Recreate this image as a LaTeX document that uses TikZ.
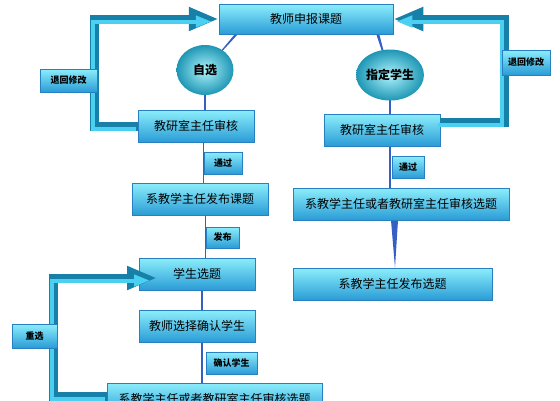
\documentclass[tikz,border=0pt]{standalone}
\usepackage{fontspec}
\setmainfont{Noto Sans CJK SC}
\usetikzlibrary{arrows.meta,calc,backgrounds,shapes.geometric}
\pgfdeclarelayer{top}
\pgfsetlayers{background,main,top}
\definecolor{boxtop}{RGB}{140,238,252}
\definecolor{boxbot}{RGB}{42,156,214}
\definecolor{boxedge}{RGB}{40,128,195}
\definecolor{conncol}{RGB}{55,95,195}
\definecolor{pipedark}{RGB}{22,128,168}
\definecolor{pipelight}{RGB}{75,208,242}
\definecolor{ballin}{RGB}{175,244,252}
\definecolor{ballout}{RGB}{30,150,180}
\begin{document}
\begin{tikzpicture}[x=1pt,y=-1pt,
  box/.style={rectangle,draw=boxedge,line width=0.5pt,top color=boxtop,bottom color=boxbot,inner sep=0pt,font=\fontsize{12}{12}\selectfont},
  tag/.style={box,font=\fontsize{9}{9}\selectfont\bfseries},
  ball/.style={ellipse,inner sep=0pt,inner color=ballin,outer color=ballout,font=\fontsize{12}{12}\selectfont\bfseries},
  conn/.style={draw=conncol,line width=1.4pt},
  wedge/.style={fill=conncol},
  pipe/.style={draw=pipedark,line width=9pt,-{Triangle[width=22pt,length=30pt]}},
  pipehi/.style={draw=pipelight,line width=4pt,shorten >=5pt,-{Triangle[width=11pt,length=16pt]},transform canvas={shift={(-2pt,-2.5pt)}}}
]
\useasboundingbox (0,0) rectangle (560,400);

% main boxes
\node[box,minimum width=174pt,minimum height=30pt] (top) at (306,19) {教师申报课题};
\node[ball,minimum width=57pt,minimum height=50pt] (c1) at (205,70) {自选};
\node[ball,minimum width=54pt,minimum height=51pt] (c2) at (390,75) {指定学生};
\node[box,minimum width=116pt,minimum height=32pt] (L1) at (196,126) {教研室主任审核};
\node[box,minimum width=116pt,minimum height=32pt] (R1) at (382,130) {教研室主任审核};
\node[box,minimum width=136pt,minimum height=32pt] (L2) at (200,199) {系教学主任发布课题};
\node[box,minimum width=216pt,minimum height=32pt] (R2) at (401,204) {系教学主任或者教研室主任审核选题};
\node[box,minimum width=199pt,minimum height=32pt] (R3) at (392.5,284) {系教学主任发布选题};
\node[box,minimum width=116pt,minimum height=32pt] (L3) at (197,274) {学生选题};
\node[box,minimum width=116pt,minimum height=32pt] (L4) at (197,326) {教师选择确认学生};
\node[box,minimum width=215pt,minimum height=32pt] (L5) at (214.5,399) {系教学主任或者教研室主任审核选题};

% labels
\begin{pgfonlayer}{top}
\node[tag,minimum width=57pt,minimum height=23pt] (Lret) at (68.5,80.5) {退回修改};
\node[tag,minimum width=48pt,minimum height=25pt] (Rret) at (526,62.5) {退回修改};
\node[tag,minimum width=38pt,minimum height=22pt] (Lpass) at (223,163) {通过};
\node[tag,minimum width=32pt,minimum height=22pt] (Rpass) at (408,167) {通过};
\node[tag,minimum width=33pt,minimum height=21pt] (Lpub) at (222.5,237.5) {发布};
\node[tag,minimum width=51pt,minimum height=22pt] (Lconf) at (231.5,363) {确认学生};
\node[tag,minimum width=45pt,minimum height=24pt] (Lre) at (34.5,336) {重选};
\end{pgfonlayer}

% connectors behind
\begin{pgfonlayer}{background}
\fill[white] (0,0) rectangle (560,400);
\fill[wedge] ($(top.south west)+(16,0)$) -- ($(top.south west)+(19,0)$) -- (c1.center) -- cycle;
\fill[wedge] ($(top.south east)+(-17,0)$) -- ($(top.south east)+(-14,0)$) -- (c2.center) -- cycle;
\draw[conn] (c1.center) -- (c1.center |- L1.north);
\draw[conn] (c2.center) -- (c2.center |- R1.north);
\draw[conn] (L1.south -| Lpass.west) -- (L2.north -| Lpass.west);
\draw[conn] (L2.south -| Lpub.west) -- (L3.north -| Lpub.west);
\draw[conn] ($(L3.south)+(5,0)$) coordinate (l34) -- (l34 |- L4.north);
\draw[conn] ($(L4.south)+(5,0)$) coordinate (l45) -- (l45 |- L5.north);
\draw[conn] (R1.south -| c2.center) -- (R2.north -| c2.center);
\fill[wedge] ($(R2.south)+(-10,0)$) -- ($(R2.south)+(-3,0)$) -- ($(R3.north)+(2.5,0)$) -- cycle;
\end{pgfonlayer}

% feedback pipes
\coordinate (lfb) at (94.5,126);
\coordinate (rfb) at (504,122);
\coordinate (bfb) at (53.5,396);
\coordinate (bft) at (157,278);
\draw[pipe] (L1.west) -- (lfb) |- (top.west);
\draw[pipehi] (L1.west) -- (lfb) |- (top.west);
\draw[pipe] (R1.east |- rfb) -- (rfb) |- (top.east);
\draw[pipehi] (R1.east |- rfb) -- (rfb) |- (top.east);
\draw[pipe] (L5.west |- bfb) -- (bfb) |- (bft);
\draw[pipehi] (L5.west |- bfb) -- (bfb) |- (bft);
\end{tikzpicture}
\end{document}
